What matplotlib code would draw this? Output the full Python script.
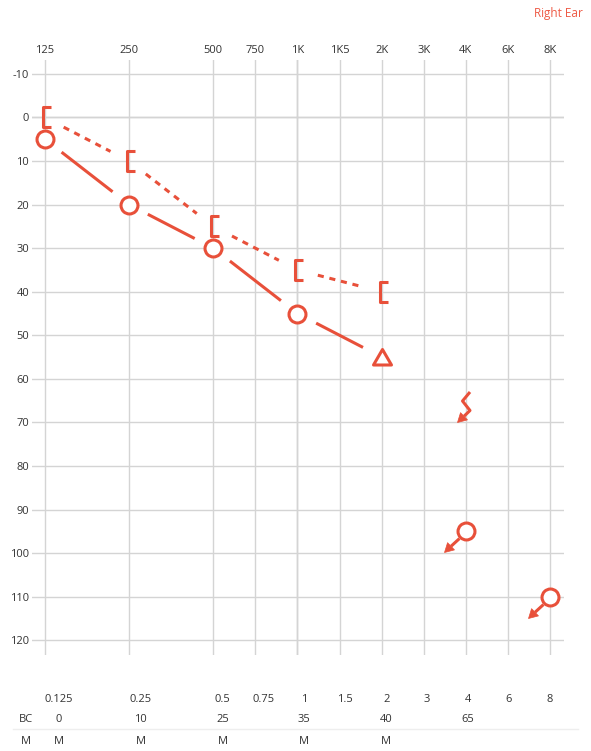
import matplotlib
matplotlib.use("Agg")
import matplotlib.pyplot as plt
from matplotlib.path import Path
import numpy as np

# audiogram data (right ear)
freq_labels = ['125', '250', '500', '750', '1K', '1K5', '2K', '3K', '4K', '6K', '8K']
freq_hz = [125, 250, 500, 750, 1000, 1500, 2000, 3000, 4000, 6000, 8000]
db_ticks = list(range(-10, 130, 10))

ac_freqs = [125, 250, 500, 1000]          # air conduction, circles
ac_db = [5, 20, 30, 45]
ac_masked_freq = [2000]                    # triangle
ac_masked_db = [55]
ac_nr_freqs = [4000, 8000]                 # no response, circle + arrow
ac_nr_db = [95, 110]

bc_freqs = [125, 250, 500, 1000, 2000]     # bone conduction, brackets
bc_db = [0, 10, 25, 35, 40]
bc_nr_freqs = [4000]                       # zigzag + arrow
bc_nr_db = [65]

table_freqs = ['0.125', '0.25', '0.5', '0.75', '1', '1.5', '2', '3', '4', '6', '8']
table_bc = ['0', '10', '25', '', '35', '', '40', '', '65', '', '']
table_mask = ['M', 'M', 'M', '', 'M', '', 'M', '', '', '', '']

# category slots on the x axis (125 and 250 take double width)
slots = [0, 2, 4, 5, 6, 7, 8, 9, 10, 11, 12]
slot_of = dict(zip(freq_hz, slots))

RED = '#E8503A'
TXT = '#333333'
DPI = 100
W, H = 591, 751
FS = 8


def fx(freqs):
    return [slot_of[f] for f in freqs]


def px_marker(pts, closed=False):
    # marker shape from pixel offsets (y down); returns path and markersize
    v = np.array(pts, float)
    v[:, 1] *= -1
    if closed:
        v = np.vstack([v, v[:1]])
        p = Path(v, closed=True)
    else:
        p = Path(v)
    m = np.abs(v).max()
    return p, 2 * m * 72 / DPI


def head(tip, frm, length=9.0, half=5.0):
    tip = np.array(tip, float)
    d = tip - np.array(frm, float)
    d /= np.hypot(*d)
    n = np.array([-d[1], d[0]])
    base = tip - length * d
    return [tip, base + half * n, base - half * n], base


plt.rcParams['font.family'] = ['Open Sans', 'DejaVu Sans']
plt.rcParams['axes.unicode_minus'] = False
fig = plt.figure(figsize=(W / DPI, H / DPI), dpi=DPI)
ax = fig.add_axes([32 / W, 1 - 655 / H, (564 - 32) / W, (655 - 60) / H])
ax.set_xlim(-0.309, 12.333)
ax.set_ylim(123.4, -13.2)
for s in ax.spines.values():
    s.set_visible(False)

ax.xaxis.tick_top()
ax.set_xticks(slots)
ax.set_xticklabels(freq_labels)
ax.set_yticks(db_ticks)
ax.tick_params(axis='x', length=0, pad=3, labelsize=FS, labelcolor=TXT)
ax.tick_params(axis='y', length=0, pad=2, labelsize=FS, labelcolor=TXT)
ax.grid(True, color='#d4d4d4', lw=1.0, zorder=0)
ax.axhline(0, color='#444444', lw=0.8, zorder=1)
ax.axvline(slot_of[1000], color='#444444', lw=0.8, zorder=1)

lw = 2.2


def trimmed(xs, ys, gap=21):
    pts = ax.transData.transform(np.column_stack([xs, ys]))
    inv = ax.transData.inverted()
    segs = []
    for a, b in zip(pts[:-1], pts[1:]):
        d = b - a
        u = d / np.hypot(*d)
        segs.append(inv.transform([a + gap * u, b - gap * u]))
    return segs


# solid air conduction line
for seg in trimmed(fx(ac_freqs + ac_masked_freq), ac_db + ac_masked_db):
    ax.plot(seg[:, 0], seg[:, 1], color=RED, lw=lw, solid_capstyle='butt', zorder=2)
# dotted bone conduction line
for seg in trimmed(fx(bc_freqs), bc_db):
    ax.plot(seg[:, 0], seg[:, 1], color=RED, lw=lw, dashes=(2, 1.9),
            dash_capstyle='butt', zorder=2)

# circles
ax.plot(fx(ac_freqs), ac_db, 'o', ms=12.2, mfc='white', mec=RED, mew=lw, ls='none', zorder=3)

# triangle
tri, tri_ms = px_marker([(0, -8), (9, 7.5), (-9, 7.5)], closed=True)
ax.plot(fx(ac_masked_freq), ac_masked_db, marker=tri, ms=tri_ms, mfc='white', mec=RED,
        mew=lw, ls='none', zorder=3)

# brackets
br, br_ms = px_marker([(6, -10), (-2.5, -10), (-2.5, 10), (6, 10)])
ax.plot(fx(bc_freqs), bc_db, marker=br, ms=br_ms, mfc='none', mec=RED, mew=lw,
        ls='none', zorder=3)

# no-response circles with arrows
tip = (-22, 21)
hd, base = head(tip, (0, 0))
shaft, shaft_ms = px_marker([(-7.1, 7.1), tuple(base)])
hd_m, hd_ms = px_marker(hd, closed=True)
ax.plot(fx(ac_nr_freqs), ac_nr_db, marker=shaft, ms=shaft_ms, mfc='none', mec=RED,
        mew=lw, ls='none', zorder=3)
ax.plot(fx(ac_nr_freqs), ac_nr_db, marker=hd_m, ms=hd_ms, mfc=RED, mec=RED,
        mew=0.5, ls='none', zorder=3)
ax.plot(fx(ac_nr_freqs), ac_nr_db, 'o', ms=12.2, mfc='white', mec=RED, mew=lw,
        ls='none', zorder=4)

# bone conduction no-response zigzag
ztip = (-9, 21)
zhd, zbase = head(ztip, (3.5, 9))
zz, zz_ms = px_marker([(3.5, -9.5), (-4, -0.5), (3.5, 9), tuple(zbase)])
zhd_m, zhd_ms = px_marker(zhd, closed=True)
ax.plot(fx(bc_nr_freqs), bc_nr_db, marker=zz, ms=zz_ms, mfc='none', mec=RED,
        mew=lw, ls='none', zorder=3)
ax.plot(fx(bc_nr_freqs), bc_nr_db, marker=zhd_m, ms=zhd_ms, mfc=RED, mec=RED,
        mew=0.5, ls='none', zorder=3)

# title
fig.text(583 / W, 1 - 13 / H, 'Right Ear', ha='right', va='center', fontsize=8.5,
         color='#EE5A45')

# summary table below the chart
tx = [(59 + 40.9 * s) / W for s in slots]
for x, f, b, m in zip(tx, table_freqs, table_bc, table_mask):
    fig.text(x, 1 - 699 / H, f, ha='center', va='center', fontsize=FS, color=TXT)
    fig.text(x, 1 - 719 / H, b, ha='center', va='center', fontsize=FS, color=TXT)
    fig.text(x, 1 - 741 / H, m, ha='center', va='center', fontsize=FS, color=TXT)
fig.text(26 / W, 1 - 719 / H, 'BC', ha='center', va='center', fontsize=FS, color=TXT)
fig.text(26 / W, 1 - 741 / H, 'M', ha='center', va='center', fontsize=FS, color=TXT)
fig.add_artist(plt.Line2D([13 / W, 578 / W], [1 - 729 / H, 1 - 729 / H], color='#eeeeee', lw=1))

fig.savefig('out.png', dpi=DPI)
